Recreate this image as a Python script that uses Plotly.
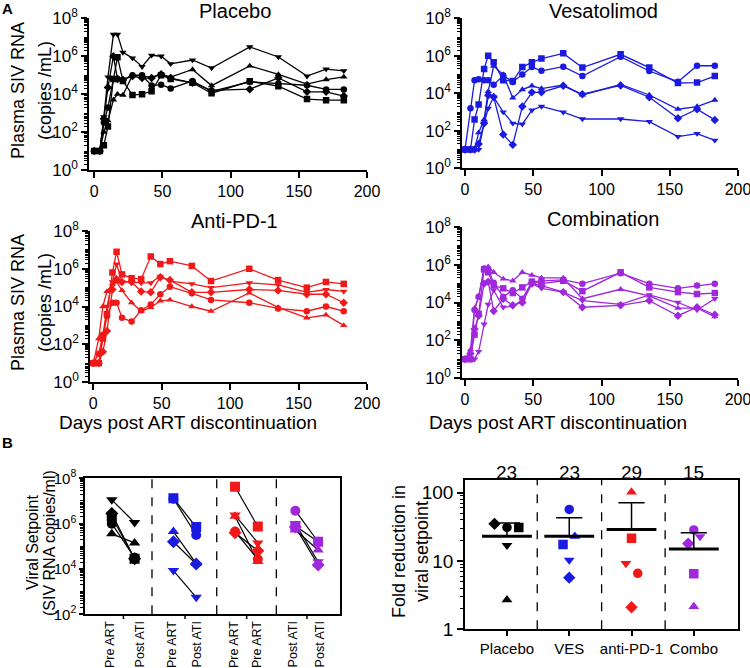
import plotly.graph_objects as go

W, H = 750, 668

# ---------------- DATA ----------------
days = [0, 4, 7, 10, 14, 17, 21, 28, 35, 42, 49, 56, 72, 86, 114, 135, 156, 170, 183]

# Plasma SIV RNA, log10 copies/mL (one list per animal / marker shape)
placebo_circle   = [1, 1, 2.5, 3.3, 4.8, 4.8, 4.75, 5.0, 5.0, 4.45, 4.5, 4.3, 4.7, 4.15, 4.65, 4.56, 4.47, 4.25, 4.25]
placebo_square   = [1, 1, 1.3, 2.3, 4.8, 5.95, 4.7, 3.95, 4.0, 4.15, 5.0, 4.8, 4.6, 4.05, 4.68, 4.42, 3.74, 3.68, 3.68]
placebo_tri      = [1, 1, 2.0, 2.6, 3.7, 4.0, 3.95, 5.0, 4.95, 4.9, 5.05, 4.9, 5.3, 4.45, 5.49, 5.04, 4.53, 4.77, 4.91]
placebo_invtri   = [1, 1, 2.8, 4.9, 7.15, 7.15, 6.2, 5.9, 5.45, 6.05, 6.0, 5.6, 5.8, 5.38, 6.49, 5.96, 4.95, 5.32, 5.23]
placebo_diamond  = [1, 1, 2.7, 4.35, 6.0, 4.8, 4.75, 4.95, 4.85, 4.85, 5.05, 4.85, 4.6, 4.2, 4.26, 4.86, 4.12, 4.12, 3.9]

ves_circle  = [1, 3.2, 4.7, 4.75, 4.7, 4.7, 4.45, 4.95, 4.6, 5.0, 5.4, 5.2, 5.42, 4.92, 5.95, 5.19, 4.62, 5.47, 5.47]
ves_square  = [1, 1, 2.6, 3.4, 5.3, 6.0, 5.65, 4.7, 4.65, 5.4, 5.65, 5.85, 6.13, 5.37, 6.08, 5.37, 4.55, 4.57, 4.92]
ves_tri     = [1, 1, 1, 1.9, 2.6, 4.1, 5.45, 5.0, 3.75, 4.2, 4.4, 4.25, 4.44, 3.91, 4.47, 3.91, 3.15, 3.29, 3.64]
ves_invtri  = [1, 1, 1, 1, 2.4, 3.2, 3.8, 3.0, 2.4, 2.35, 3.1, 3.3, 2.99, 2.63, 2.63, 2.49, 1.69, 1.85, 1.49]
ves_diamond = [1, 1, 1, 1.3, 2.4, 3.9, 3.8, 1.8, 1.25, 3.3, 4.05, 4.05, 4.4, 3.95, 4.42, 3.79, 2.67, 3.15, 2.58]

pd1_circle  = [1, 1.5, 2.5, 3.5, 4.2, 4.2, 3.4, 3.2, 3.8, 4.1, 4.65, 5.05, 4.7, 4.35, 4.2, 3.9, 3.75, 4.0, 3.75]
pd1_square  = [1, 1, 2.3, 3.6, 5.8, 6.9, 5.7, 5.5, 5.45, 6.65, 6.25, 6.4, 6.15, 5.35, 6.0, 5.4, 5.0, 5.3, 5.2]
pd1_tri     = [1, 2.3, 4.0, 4.8, 5.2, 5.3, 4.85, 4.2, 3.75, 3.95, 4.3, 4.35, 4.0, 3.75, 4.72, 3.95, 3.4, 3.55, 3.0]
pd1_invtri  = [1, 1, 2.4, 4.0, 5.3, 6.25, 5.3, 5.3, 5.25, 5.25, 5.6, 5.35, 5.2, 5.0, 5.25, 5.15, 4.75, 4.9, 4.8]
pd1_diamond = [1, 1, 1.6, 2.7, 4.9, 5.45, 5.3, 5.3, 4.8, 4.75, 5.55, 5.4, 4.75, 4.75, 4.9, 4.85, 4.65, 4.65, 4.2]

combo_circle  = [1, 1, 3.6, 4.3, 5.8, 5.75, 5.05, 4.3, 4.65, 4.2, 5.1, 5.15, 5.2, 5.0, 5.55, 5.0, 4.75, 4.9, 5.0]
combo_square  = [1, 1, 2.3, 3.4, 5.75, 5.6, 4.9, 4.75, 4.5, 4.8, 5.1, 5.0, 5.15, 4.6, 5.6, 4.8, 4.55, 4.45, 4.5]
combo_tri     = [1, 1.5, 3.7, 4.3, 5.8, 5.9, 5.6, 5.25, 5.15, 5.6, 5.45, 5.3, 5.3, 4.2, 4.7, 4.35, 3.7, 3.7, 3.25]
combo_invtri  = [1, 1, 1, 1.4, 2.85, 3.9, 4.65, 3.75, 3.8, 4.15, 5.0, 4.75, 4.55, 4.1, 3.9, 4.4, 4.0, 3.6, 4.2]
combo_diamond = [1, 1.3, 2.6, 3.3, 5.0, 5.1, 3.55, 4.2, 3.85, 4.0, 5.0, 4.9, 4.55, 3.75, 3.85, 4.1, 3.3, 3.75, 3.35]

top_titles = ["Placebo", "Vesatolimod", "Anti-PD-1", "Combination"]

# Viral setpoint, log10 copies/ml; order: circle, square, triangle, inv. triangle, diamond
setpoint_pre_placebo  = [6.0, 6.3, 5.55, 7.05, 6.45]
setpoint_post_placebo = [4.5, 4.45, 5.15, 6.05, 4.45]
setpoint_pre_ves      = [7.1, 7.12, 5.65, 3.93, 5.2]
setpoint_post_ves     = [5.5, 5.85, 4.25, 2.75, 4.22]
setpoint_pre_pd1      = [5.65, 7.63, 6.33, 6.38, 5.6]
setpoint_post_pd1     = [4.43, 5.87, 4.33, 5.15, 4.8]
setpoint_pre_combo    = [6.57, 5.9, 5.72, 6.0, 5.85]
setpoint_post_combo   = [5.2, 5.2, 4.84, 4.32, 4.18]
setpoint_tick_labels = ["Pre ART", "Post ATI", "Pre ART", "Post ATI",
                        "Pre ART", "Pre ART", "Post ATI", "Post ATI"]

# Fold reduction in viral setpoint; same marker order
fold_categories = ["Placebo", "VES", "anti-PD-1", "Combo"]
fold_placebo = [31, 31, 2.7, 17, 35]
fold_ves     = [57, 17.5, 23, 10.3, 5.7]
fold_pd1     = [6.6, 21.5, 102, 9.2, 2.1]
fold_combo   = [28.5, 6.5, 2.15, 22.8, 18]
fold_mean      = [23, 23, 29, 15]
fold_sem_upper = [36, 43, 71, 26]
fold_mean_labels = ["23", "23", "29", "15"]

# ---------------- STYLE ----------------
FONT = "Arial, Liberation Sans, sans-serif"
symbols = ["circle", "square", "triangle-up", "triangle-down", "diamond"]
colors = ["#000000", "#1a1ae0", "#f01818", "#a028dc"]


def px_x(a, b):
    return [a / W, b / W]


def px_y(top, bottom):
    return [1 - bottom / H, 1 - top / H]


def sup(n):
    return "10<sup>%d</sup>" % n


def log_minor(lo, hi):
    return [k * 10 ** n for n in range(lo, hi) for k in range(2, 10)]


fig = go.Figure()

top_series = [
    [placebo_circle, placebo_square, placebo_tri, placebo_invtri, placebo_diamond],
    [ves_circle, ves_square, ves_tri, ves_invtri, ves_diamond],
    [pd1_circle, pd1_square, pd1_tri, pd1_invtri, pd1_diamond],
    [combo_circle, combo_square, combo_tri, combo_invtri, combo_diamond],
]
axis_ids = ["", "2", "3", "4"]

for gi, series in enumerate(top_series):
    for s, sym in zip(series, symbols):
        fig.add_trace(go.Scatter(
            x=days, y=[10 ** v for v in s], mode="lines+markers",
            line=dict(color=colors[gi], width=1.3),
            marker=dict(symbol=sym, size=6.5, color=colors[gi], line=dict(width=0)),
            xaxis="x" + axis_ids[gi], yaxis="y" + axis_ids[gi],
            hoverinfo="skip"))

# panel B left
pre_pos = [0, 2.76, 5.52, 8.22]
post_off = 1.02
pre_groups = [setpoint_pre_placebo, setpoint_pre_ves, setpoint_pre_pd1, setpoint_pre_combo]
post_groups = [setpoint_post_placebo, setpoint_post_ves, setpoint_post_pd1, setpoint_post_combo]
for gi in range(4):
    for k in range(5):
        fig.add_trace(go.Scatter(
            x=[pre_pos[gi], pre_pos[gi] + post_off],
            y=[10 ** pre_groups[gi][k], 10 ** post_groups[gi][k]],
            mode="lines", line=dict(color="black", width=1.2),
            xaxis="x5", yaxis="y5", hoverinfo="skip"))
for gi in range(4):
    for k in range(5):
        fig.add_trace(go.Scatter(
            x=[pre_pos[gi], pre_pos[gi] + post_off],
            y=[10 ** pre_groups[gi][k], 10 ** post_groups[gi][k]],
            mode="markers",
            marker=dict(symbol=symbols[k], size=10, color=colors[gi], line=dict(width=0)),
            xaxis="x5", yaxis="y5", hoverinfo="skip"))

# panel B right
fold_groups = [fold_placebo, fold_ves, fold_pd1, fold_combo]
jitter = [[0, 0.19, 0, 0, -0.2], [0, -0.1, 0.09, 0, 0],
          [0.1, 0, 0, -0.09, 0], [0, 0, 0, 0.1, -0.09]]
for gi in range(4):
    for k in range(5):
        fig.add_trace(go.Scatter(
            x=[gi + jitter[gi][k]], y=[fold_groups[gi][k]], mode="markers",
            marker=dict(symbol=symbols[k], size=9.5, color=colors[gi], line=dict(width=0)),
            xaxis="x6", yaxis="y6", hoverinfo="skip"))
for gi in range(4):
    fig.add_trace(go.Scatter(x=[gi, gi], y=[fold_mean[gi], fold_sem_upper[gi]], mode="lines",
                             line=dict(color="black", width=1.5), xaxis="x6", yaxis="y6", hoverinfo="skip"))
    fig.add_trace(go.Scatter(x=[gi - 0.21, gi + 0.21], y=[fold_sem_upper[gi]] * 2, mode="lines",
                             line=dict(color="black", width=1.5), xaxis="x6", yaxis="y6", hoverinfo="skip"))
    fig.add_trace(go.Scatter(x=[gi - 0.4, gi + 0.4], y=[fold_mean[gi]] * 2, mode="lines",
                             line=dict(color="black", width=3), xaxis="x6", yaxis="y6", hoverinfo="skip"))

# ---------------- AXES ----------------
axis_common = dict(showline=True, linecolor="black", linewidth=1.5, ticks="outside",
                   tickcolor="black", tickwidth=1.5, showgrid=False, zeroline=False,
                   automargin=False, ticklabeloverflow="allow")

top_geom = [  # (x px left, right, y px top, bottom, x range start)
    (89, 367, 18.3, 170, -3.9),
    (462, 738, 18.3, 168.3, -2.2),
    (90, 367, 231, 382, -2.4),
    (462, 738, 227, 378, -2.2),
]
layout = {}
for gi, (xl, xr, yt, yb, x0) in enumerate(top_geom):
    sfx = axis_ids[gi]
    xname = "xaxis" + sfx
    yname = "yaxis" + sfx
    layout[xname] = dict(axis_common, domain=px_x(xl, xr), range=[x0, 200],
                         tickvals=[0, 50, 100, 150, 200], ticklen=6,
                         tickfont=dict(family=FONT, size=16, color="black"),
                         anchor="y" + sfx)
    layout[yname] = dict(axis_common, domain=px_y(yt, yb), type="log", range=[0, 8],
                         tickvals=[1, 1e2, 1e4, 1e6, 1e8], ticktext=[sup(n) for n in (0, 2, 4, 6, 8)],
                         ticklen=6, tickfont=dict(family=FONT, size=17, color="black"),
                         minor=dict(tickmode="array",
                                    tickvals=[10 ** n for n in (1, 3, 5, 7)] + log_minor(0, 8),
                                    ticks="outside", ticklen=3, tickcolor="black", tickwidth=1,
                                    showgrid=False),
                         anchor="x" + sfx)

label_pos = [-0.07, 1.27, 2.69, 3.8, 5.45, 6.49, 8.13, 9.33]
layout["xaxis5"] = dict(axis_common, domain=px_x(85, 340), range=[-1.2, 10.22], mirror=True,
                        tickvals=label_pos, ticktext=setpoint_tick_labels, ticks="", ticklen=0,
                        ticklabelstandoff=0,
                        tickangle=-90, tickfont=dict(family=FONT, size=12.5, color="black"),
                        anchor="y5")
layout["yaxis5"] = dict(axis_common, domain=px_y(478.3, 614.3), type="log", range=[2, 8], mirror=True,
                        tickvals=[1e2, 1e4, 1e6, 1e8], ticktext=[sup(n) for n in (2, 4, 6, 8)],
                        ticklen=4, tickfont=dict(family=FONT, size=15, color="black"),
                        minor=dict(tickmode="array",
                                   tickvals=[10 ** n for n in (3, 5, 7)] + log_minor(2, 8),
                                   ticks="outside", ticklen=3, tickcolor="black", tickwidth=1,
                                   showgrid=False),
                        anchor="x5")
layout["xaxis6"] = dict(axis_common, domain=px_x(465, 738), range=[-0.674, 3.71], mirror=True,
                        tickvals=[0, 1, 2, 3], ticktext=fold_categories, ticklen=5,
                        tickfont=dict(family=FONT, size=15, color="black"), anchor="y6")
layout["yaxis6"] = dict(axis_common, domain=px_y(480, 629.3), type="log", range=[0, 2.186], mirror=True,
                        tickvals=[1, 10, 100], ticktext=["1", "10", "100"], ticklen=6,
                        tickfont=dict(family=FONT, size=19, color="black"),
                        minor=dict(tickmode="array", tickvals=log_minor(0, 3),
                                   ticks="outside", ticklen=3, tickcolor="black", tickwidth=1,
                                   showgrid=False),
                        anchor="x6")

# ---------------- SHAPES ----------------
shapes = []
for xv in [1.8, 4.7, 7.37]:
    shapes.append(dict(type="line", xref="x5", yref="y5 domain", x0=xv, x1=xv, y0=0, y1=1,
                       line=dict(color="black", width=1.3, dash="dash")))
for p in pre_pos:
    xm = p + 0.52
    shapes.append(dict(type="line", xref="x5", yref="y5 domain", x0=xm, x1=xm, y0=0, y1=-0.035,
                       line=dict(color="black", width=1.5)))
for xv in [0.486, 1.52, 2.54]:
    shapes.append(dict(type="line", xref="x6", yref="y6 domain", x0=xv, x1=xv, y0=0, y1=1,
                       line=dict(color="black", width=1.3, dash="dash")))

# ---------------- ANNOTATIONS ----------------
ann = []


def text(x, y, s, size, angle=0, bold=False, xanchor="center"):
    ann.append(dict(x=x / W, y=1 - y / H, xref="paper", yref="paper", text=("<b>%s</b>" % s if bold else s),
                    showarrow=False, textangle=angle, xanchor=xanchor, yanchor="middle",
                    font=dict(family=FONT, size=size, color="black")))


title_pos = [(235, 11), (603, 11), (234, 221), (603, 219)]
for t, (tx, ty) in zip(top_titles, title_pos):
    text(tx, ty, t, 20)

for yc in (91, 303):
    text(18, yc, "Plasma SIV RNA", 18, angle=-90)
    text(45, yc, "(copies /mL)", 18, angle=-90)

text(188, 422, "Days post ART discontinuation", 19)
text(558, 422, "Days post ART discontinuation", 19)

text(7, 9, "A", 15, bold=True)
text(7, 442, "B", 15, bold=True)

text(32, 543, "Viral Setpoint", 16, angle=-90)
text(49, 543, "(SIV RNA copies/ml)", 16, angle=-90)

text(399, 552, "Fold reduction in", 18, angle=-90)
text(422, 552, "viral setpoint", 18, angle=-90)

for gi, lab in enumerate(fold_mean_labels):
    ann.append(dict(x=gi, y=1 - 472 / H, xref="x6", yref="paper", text=lab, showarrow=False,
                    xanchor="center", yanchor="middle", font=dict(family=FONT, size=19, color="black")))

fig.update_layout(
    width=W, height=H, margin=dict(l=0, r=0, t=0, b=0, autoexpand=False),
    paper_bgcolor="white", plot_bgcolor="white", showlegend=False,
    font=dict(family=FONT, color="black"),
    shapes=shapes, annotations=ann, **layout)

fig.write_html("out.html", config={"displayModeBar": False},
               post_script="document.body.style.margin='0';document.body.style.overflow='hidden';")
